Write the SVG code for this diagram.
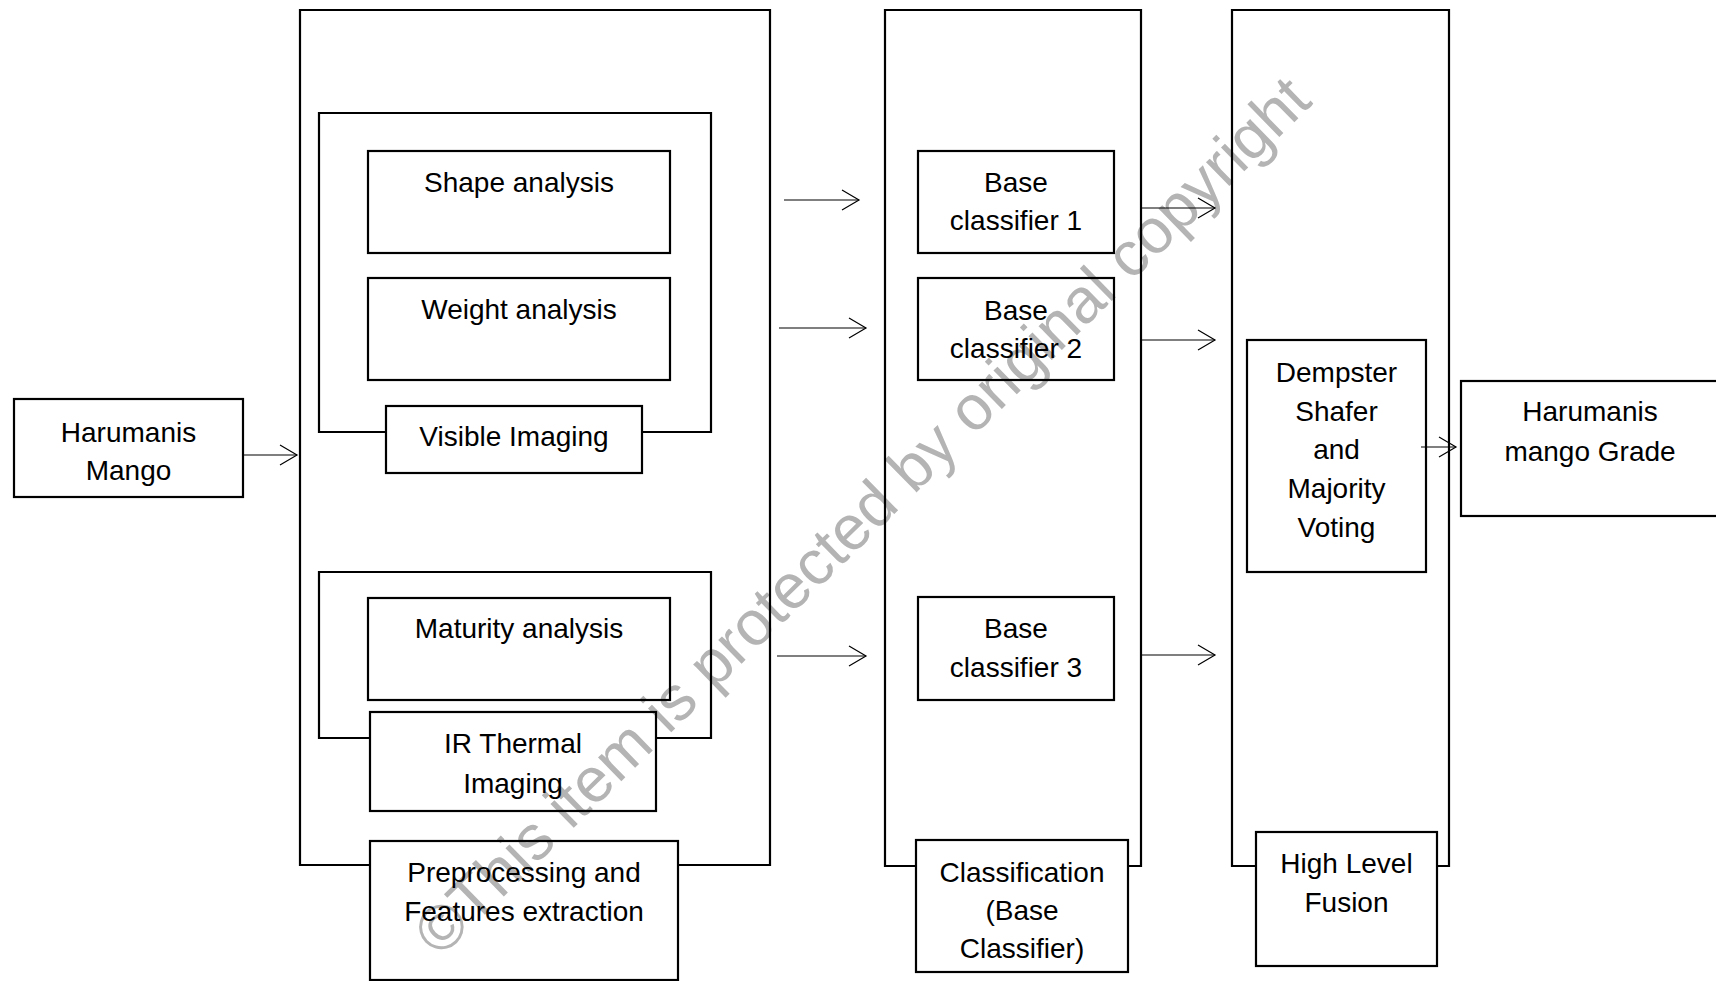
<svg xmlns="http://www.w3.org/2000/svg" width="1716" height="981" viewBox="0 0 1716 981">
<style>
.b{fill:none;stroke:#000;stroke-width:2.2}
.c{fill:none;stroke:#000;stroke-width:1.2}
.t{font-family:"Liberation Sans",Arial,sans-serif;font-size:28px;fill:#000;text-anchor:middle}
.wm{font-family:"Liberation Sans",Arial,sans-serif;font-size:63px;fill:#b4b4b4;text-anchor:middle}
</style>
<defs>
<marker id="ah" markerUnits="userSpaceOnUse" markerWidth="20" markerHeight="24" viewBox="-1 -12 20 24" refX="17" refY="0" orient="auto">
<path d="M0,-10 L17,0 L0,10" fill="none" stroke="#000" stroke-width="1.2"/>
</marker>
</defs>
<rect width="1716" height="981" fill="#fff"/>
<text class="wm" transform="translate(877,531) rotate(-44.4)" x="0" y="0">©This item is protected by original copyright</text>

<g id="harumanis-mango">
<rect class="b" x="14" y="399" width="229" height="98"/>
<text class="t" x="128.5" y="442">Harumanis</text>
<text class="t" x="128.5" y="480">Mango</text>
</g>

<g id="preprocessing">
<path class="b" d="M370,865 L300,865 L300,10 L770,10 L770,865 L678,865"/>
<rect class="b" x="370" y="841" width="308" height="139"/>
<text class="t" x="524" y="882">Preprocessing and</text>
<text class="t" x="524" y="921">Features extraction</text>
</g>

<g id="visible-imaging">
<path class="b" d="M386,432 L319,432 L319,113 L711,113 L711,432 L642,432"/>
<rect class="b" x="386" y="406" width="256" height="67"/>
<text class="t" x="514" y="446">Visible Imaging</text>
</g>

<g id="shape-analysis">
<rect class="b" x="368" y="151" width="302" height="102"/>
<text class="t" x="519" y="192">Shape analysis</text>
</g>

<g id="weight-analysis">
<rect class="b" x="368" y="278" width="302" height="102"/>
<text class="t" x="519" y="319">Weight analysis</text>
</g>

<g id="ir-thermal-imaging">
<path class="b" d="M370,738 L319,738 L319,572 L711,572 L711,738 L656,738"/>
<rect class="b" x="370" y="712" width="286" height="99"/>
<text class="t" x="513" y="753">IR Thermal</text>
<text class="t" x="513" y="793">Imaging</text>
</g>

<g id="maturity-analysis">
<rect class="b" x="368" y="598" width="302" height="102"/>
<text class="t" x="519" y="638">Maturity analysis</text>
</g>

<g id="classification">
<path class="b" d="M916,866 L885,866 L885,10 L1141,10 L1141,866 L1128,866"/>
<rect class="b" x="916" y="840" width="212" height="132"/>
<text class="t" x="1022" y="882">Classification</text>
<text class="t" x="1022" y="920">(Base</text>
<text class="t" x="1022" y="958">Classifier)</text>
</g>

<g id="base-classifier-1">
<rect class="b" x="918" y="151" width="196" height="102"/>
<text class="t" x="1016" y="192">Base</text>
<text class="t" x="1016" y="230">classifier 1</text>
</g>

<g id="base-classifier-2">
<rect class="b" x="918" y="278" width="196" height="102"/>
<text class="t" x="1016" y="320">Base</text>
<text class="t" x="1016" y="358">classifier 2</text>
</g>

<g id="base-classifier-3">
<rect class="b" x="918" y="597" width="196" height="103"/>
<text class="t" x="1016" y="638">Base</text>
<text class="t" x="1016" y="677">classifier 3</text>
</g>

<g id="high-level-fusion">
<path class="b" d="M1256,866 L1232,866 L1232,10 L1449,10 L1449,866 L1437,866"/>
<rect class="b" x="1256" y="832" width="181" height="134"/>
<text class="t" x="1346.5" y="873">High Level</text>
<text class="t" x="1346.5" y="912">Fusion</text>
</g>

<g id="dempster-shafer">
<rect class="b" x="1247" y="340" width="179" height="232"/>
<text class="t" x="1336.5" y="382">Dempster</text>
<text class="t" x="1336.5" y="421">Shafer</text>
<text class="t" x="1336.5" y="459">and</text>
<text class="t" x="1336.5" y="498">Majority</text>
<text class="t" x="1336.5" y="537">Voting</text>
</g>

<g id="mango-grade">
<rect class="b" x="1461" y="381" width="270" height="135"/>
<text class="t" x="1590" y="421">Harumanis</text>
<text class="t" x="1590" y="461">mango Grade</text>
</g>

<g id="connectors">
<line class="c" x1="243" y1="455" x2="297" y2="455" marker-end="url(#ah)"/>
<line class="c" x1="784" y1="200" x2="859" y2="200" marker-end="url(#ah)"/>
<line class="c" x1="779" y1="328" x2="866" y2="328" marker-end="url(#ah)"/>
<line class="c" x1="777" y1="656" x2="866" y2="656" marker-end="url(#ah)"/>
<line class="c" x1="1141" y1="208" x2="1215" y2="208" marker-end="url(#ah)"/>
<line class="c" x1="1141" y1="340" x2="1215" y2="340" marker-end="url(#ah)"/>
<line class="c" x1="1141" y1="655" x2="1215" y2="655" marker-end="url(#ah)"/>
<line class="c" x1="1421" y1="447" x2="1456" y2="447" marker-end="url(#ah)"/>
</g>
</svg>
